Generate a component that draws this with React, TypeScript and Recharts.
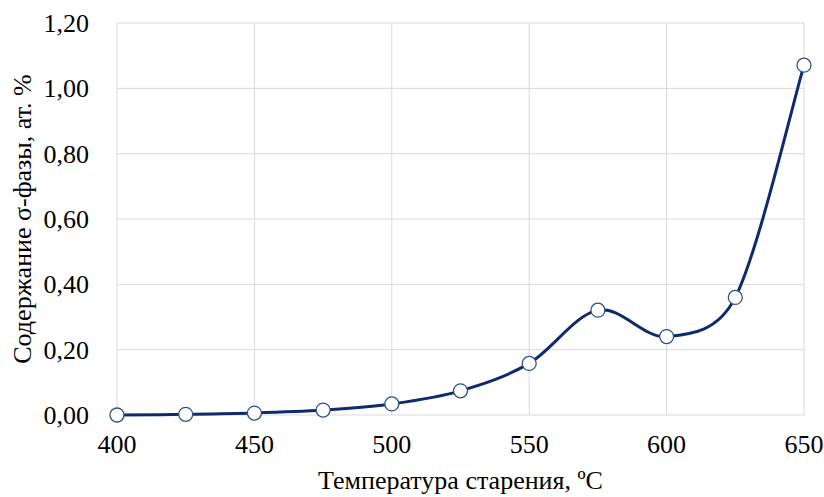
import React from 'react';
import { LineChart, Line, XAxis, YAxis, CartesianGrid, Label } from 'recharts';

const temperatures = [400, 425, 450, 475, 500, 525, 550, 575, 600, 625, 650];
const sigmaContent = [0.0, 0.002, 0.006, 0.015, 0.034, 0.074, 0.158, 0.321, 0.24, 0.36, 1.071];
const xTicks = [400, 450, 500, 550, 600, 650];
const yTicks = [0, 0.2, 0.4, 0.6, 0.8, 1.0, 1.2];

const data = temperatures.map((t, i) => ({ t, v: sigmaContent[i] }));

// Excel-like smoothed line (Bezier with limited tangent length)
function excelCurve(context: any) {
  let pts: [number, number][] = [];
  const dist = (a: [number, number], b: [number, number]) => Math.hypot(b[0] - a[0], b[1] - a[1]);
  return {
    areaStart() {},
    areaEnd() {},
    lineStart() { pts = []; },
    lineEnd() {
      const n = pts.length;
      if (n === 0) return;
      context.moveTo(pts[0][0], pts[0][1]);
      for (let i = 0; i < n - 1; i++) {
        const p0 = pts[Math.max(0, i - 1)];
        const p1 = pts[i];
        const p2 = pts[i + 1];
        const p3 = pts[Math.min(n - 1, i + 2)];
        const d12 = dist(p1, p2);
        const d02 = dist(p0, p2);
        const d13 = dist(p1, p3);
        let f1 = 1 / 6;
        if (d02 > 0 && (d02 * f1) > d12 / 2) f1 = d12 / 2 / d02;
        let f2 = 1 / 6;
        if (d13 > 0 && (d13 * f2) > d12 / 2) f2 = d12 / 2 / d13;
        const c1x = p1[0] + (p2[0] - p0[0]) * f1;
        const c1y = p1[1] + (p2[1] - p0[1]) * f1;
        const c2x = p2[0] - (p3[0] - p1[0]) * f2;
        const c2y = p2[1] - (p3[1] - p1[1]) * f2;
        context.bezierCurveTo(c1x, c1y, c2x, c2y, p2[0], p2[1]);
      }
    },
    point(x: number, y: number) { pts.push([+x, +y]); },
  };
}

const font = 'Liberation Serif';

const XTick = (props: any) => {
  const { x, y, payload } = props;
  return (
    <text x={x} y={y + 32} textAnchor="middle" fill="#000" style={{ fontFamily: font, fontSize: 26 }}>
      {payload.value}
    </text>
  );
};

const YTick = (props: any) => {
  const { x, y, payload } = props;
  return (
    <text x={x - 22} y={y + 9} textAnchor="end" fill="#000" style={{ fontFamily: font, fontSize: 26 }}>
      {Number(payload.value).toFixed(2).replace('.', ',')}
    </text>
  );
};

export default function App() {
  return (
    <div style={{ position: 'absolute', left: 0, top: 0, background: '#fff', fontFamily: font }}>
      <LineChart width={824} height={497} data={data} margin={{ top: 23, right: 20, bottom: 0, left: 0 }} style={{ fontFamily: font }}>
        <CartesianGrid stroke="#d9d9d9" strokeWidth={1} />
        <XAxis
          dataKey="t"
          type="number"
          domain={[400, 650]}
          ticks={xTicks}
          height={82}
          axisLine={false}
          tickLine={false}
          tickMargin={0}
          tick={<XTick />}
        >
          <Label value="Температура старения, ºC" position="insideBottom" offset={8} style={{ fill: '#000', fontSize: 26, fontFamily: font }} />
        </XAxis>
        <YAxis
          type="number"
          domain={[0, 1.2]}
          ticks={yTicks}
          width={117}
          axisLine={false}
          tickLine={false}
          tickMargin={0}
          tick={<YTick />}
        >
          <Label value="Содержание σ-фазы, ат. %" angle={-90} position="insideLeft" offset={22} style={{ fill: '#000', fontSize: 26, fontFamily: font, textAnchor: 'middle' }} />
        </YAxis>
        <Line
          dataKey="v"
          type={excelCurve as any}
          stroke="#0f2b6b"
          strokeWidth={3}
          isAnimationActive={false}
          dot={{ r: 7, fill: '#fff', stroke: '#2f4f8c', strokeWidth: 1.3 }}
          activeDot={false}
        />
      </LineChart>
    </div>
  );
}
